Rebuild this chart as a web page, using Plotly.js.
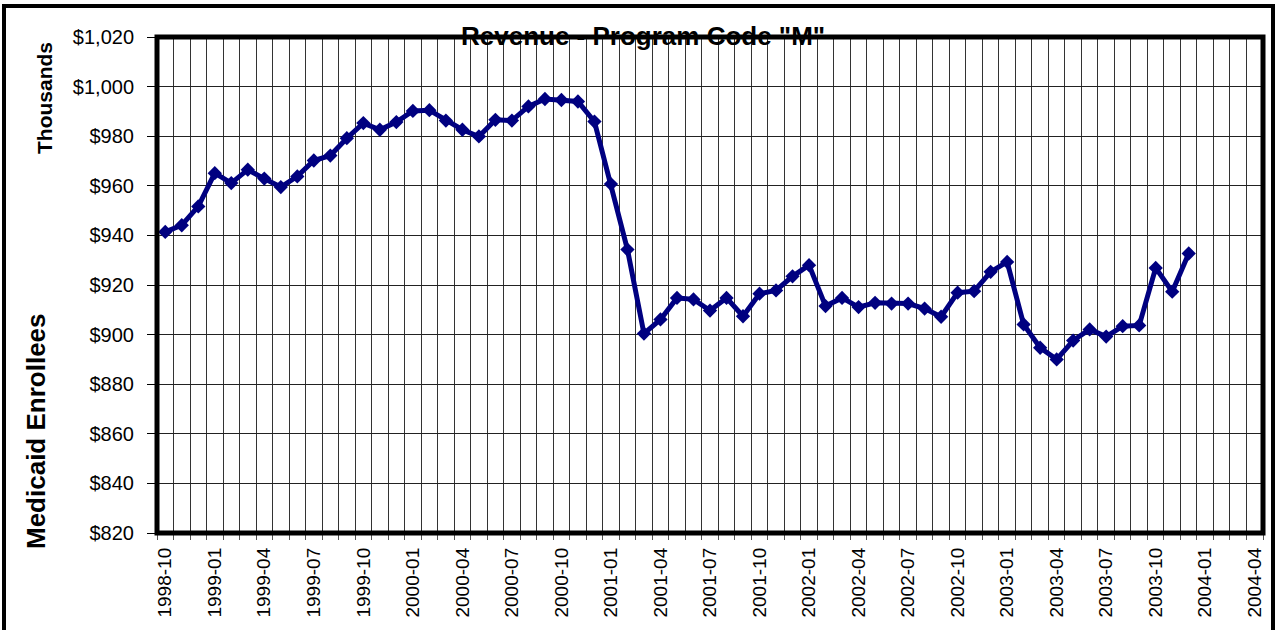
<!DOCTYPE html>
<html>
<head>
<meta charset="utf-8">
<script src="https://cdn.plot.ly/plotly-3.0.1.min.js"></script>
<style>
  html, body { margin: 0; padding: 0; background: #ffffff; }
  #chart { width: 1277px; height: 630px; }
</style>
</head>
<body>
<div id="chart"></div>
<script>
// Axis categories (months shown on the category axis)
const axisMonths = [
  "1998-10","1998-11","1998-12",
  "1999-01","1999-02","1999-03","1999-04","1999-05","1999-06","1999-07","1999-08","1999-09","1999-10","1999-11","1999-12",
  "2000-01","2000-02","2000-03","2000-04","2000-05","2000-06","2000-07","2000-08","2000-09","2000-10","2000-11","2000-12",
  "2001-01","2001-02","2001-03","2001-04","2001-05","2001-06","2001-07","2001-08","2001-09","2001-10","2001-11","2001-12",
  "2002-01","2002-02","2002-03","2002-04","2002-05","2002-06","2002-07","2002-08","2002-09","2002-10","2002-11","2002-12",
  "2003-01","2003-02","2003-03","2003-04","2003-05","2003-06","2003-07","2003-08","2003-09","2003-10","2003-11","2003-12",
  "2004-01","2004-02","2004-03","2004-04"
];

// Months that carry data
const dataMonths = [
  "1998-10","1998-11","1998-12",
  "1999-01","1999-02","1999-03","1999-04","1999-05","1999-06","1999-07","1999-08","1999-09","1999-10","1999-11","1999-12",
  "2000-01","2000-02","2000-03","2000-04","2000-05","2000-06","2000-07","2000-08","2000-09","2000-10","2000-11","2000-12",
  "2001-01","2001-02","2001-03","2001-04","2001-05","2001-06","2001-07","2001-08","2001-09","2001-10","2001-11","2001-12",
  "2002-01","2002-02","2002-03","2002-04","2002-05","2002-06","2002-07","2002-08","2002-09","2002-10","2002-11","2002-12",
  "2003-01","2003-02","2003-03","2003-04","2003-05","2003-06","2003-07","2003-08","2003-09","2003-10","2003-11","2003-12"
];

// Revenue values (thousands of dollars)
const revenue = [
  941.4, 944.1, 951.7,
  965.1, 961.1, 966.5, 962.9, 959.5, 963.8, 970.2, 972.2, 979.2, 985.3, 982.6, 985.7,
  990.2, 990.5, 986.3, 982.6, 979.9, 986.6, 986.3, 992.0, 995.0, 994.6, 994.0, 985.9,
  960.7, 934.3, 900.4, 906.1, 914.8, 914.2, 909.7, 914.8, 907.4, 916.5, 917.8, 923.5,
  928.0, 911.5, 914.8, 911.1, 912.8, 912.5, 912.5, 910.5, 907.2, 916.9, 917.5, 925.3,
  929.3, 904.1, 894.7, 890.0, 897.6, 902.1, 899.2, 903.4, 903.7, 926.9, 917.3, 932.7
];

// Labelled ticks (every third month)
const labelledMonths = [
  "1998-10","1999-01","1999-04","1999-07","1999-10","2000-01","2000-04","2000-07","2000-10",
  "2001-01","2001-04","2001-07","2001-10","2002-01","2002-04","2002-07","2002-10",
  "2003-01","2003-04","2003-07","2003-10","2004-01","2004-04"
];

const yTickVals = [820, 840, 860, 880, 900, 920, 940, 960, 980, 1000, 1020];
const yTickText = ["$820", "$840", "$860", "$880", "$900", "$920", "$940", "$960", "$980", "$1,000", "$1,020"];

const chartTitle = 'Revenue - Program Code "M"';
const unitLabel = "Thousands";
const seriesLabel = "Medicaid Enrollees";

const xTickText = axisMonths.map(m => labelledMonths.includes(m) ? m : "");

const FONT = "Liberation Sans, Arial, sans-serif";

const trace = {
  type: "scatter",
  mode: "lines+markers",
  x: dataMonths,
  y: revenue,
  line: { color: "#000080", width: 5 },
  marker: { symbol: "diamond", size: 11, color: "#000080" },
  hoverinfo: "x+y"
};

const layout = {
  width: 1277,
  height: 630,
  margin: { l: 157, r: 14, t: 37, b: 97, pad: 0 },
  paper_bgcolor: "#ffffff",
  plot_bgcolor: "#ffffff",
  showlegend: false,
  font: { family: FONT, size: 19, color: "#000000" },
  xaxis: {
    type: "category",
    categoryorder: "array",
    categoryarray: axisMonths,
    range: [-0.5, axisMonths.length - 0.5],
    tickmode: "array",
    tickvals: axisMonths,
    ticktext: xTickText,
    tickson: "boundaries",
    ticks: "outside",
    ticklen: 6,
    tickwidth: 1,
    tickcolor: "#555555",
    tickangle: -90,
    ticklabelstandoff: 10,
    tickfont: { family: FONT, size: 19, color: "#000000" },
    showgrid: true,
    gridcolor: "#333333",
    gridwidth: 1,
    showline: false,
    zeroline: false,
    fixedrange: true
  },
  yaxis: {
    range: [820, 1020],
    tickmode: "array",
    tickvals: yTickVals,
    ticktext: yTickText,
    ticks: "outside",
    ticklen: 9,
    tickwidth: 1,
    tickcolor: "#000000",
    ticklabelstandoff: 9,
    tickfont: { family: FONT, size: 20, color: "#000000" },
    showgrid: true,
    gridcolor: "#222222",
    gridwidth: 1,
    showline: false,
    zeroline: false,
    fixedrange: true
  },
  shapes: [
    {
      type: "rect", xref: "paper", yref: "paper",
      x0: 0, x1: 1, y0: 0, y1: 1,
      line: { color: "#000000", width: 5 },
      fillcolor: "rgba(0,0,0,0)",
      layer: "above"
    },
    {
      type: "rect", xref: "paper", yref: "paper",
      x0: (4 - 157) / 1106, x1: (1273 - 157) / 1106,
      y0: (533 - 660) / 496, y1: (533 - 6) / 496,
      line: { color: "#000000", width: 4 },
      fillcolor: "rgba(0,0,0,0)",
      layer: "above"
    }
  ],
  annotations: [
    {
      text: chartTitle,
      xref: "paper", yref: "paper",
      x: (643 - 157) / 1106, y: (533 - 36) / 496,
      xanchor: "center", yanchor: "middle",
      showarrow: false,
      font: { family: FONT, size: 26, color: "#000000", weight: "bold" }
    },
    {
      text: unitLabel,
      xref: "paper", yref: "paper",
      x: (45 - 157) / 1106, y: (533 - 98) / 496,
      xanchor: "center", yanchor: "middle",
      textangle: -90,
      showarrow: false,
      font: { family: FONT, size: 21, color: "#000000", weight: "bold" }
    },
    {
      text: seriesLabel,
      xref: "paper", yref: "paper",
      x: (36 - 157) / 1106, y: (533 - 431) / 496,
      xanchor: "center", yanchor: "middle",
      textangle: -90,
      showarrow: false,
      font: { family: FONT, size: 26, color: "#000000", weight: "bold" }
    }
  ]
};

Plotly.newPlot("chart", [trace], layout, { displayModeBar: false, staticPlot: true });
</script>
</body>
</html>
